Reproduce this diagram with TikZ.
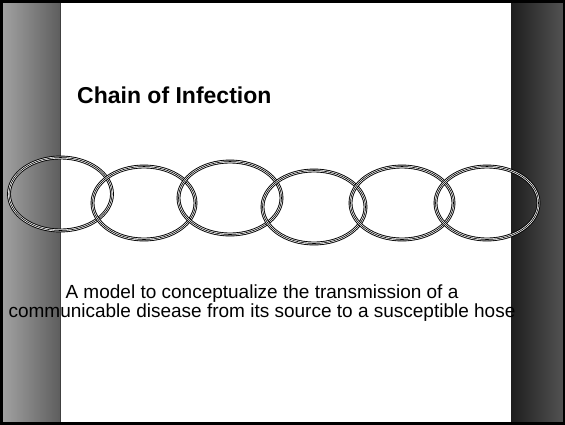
\documentclass[tikz,border=0pt]{standalone}
\usepackage{fontspec}
\setmainfont{Liberation Sans}
\usetikzlibrary{shapes.geometric}
\definecolor{bandlight}{HTML}{A2A2A2}
\definecolor{banddark}{HTML}{5E5E5E}
\definecolor{barleft}{HTML}{1E1E1E}
\definecolor{barright}{HTML}{525252}
\begin{document}
\begin{tikzpicture}[x=1pt, y=-1pt,
  ring/.style={ellipse, draw=black, line width=0.9pt, double=white, double distance=2pt,
    minimum width=103pt, minimum height=73pt, inner sep=0pt},
  ringcore/.style={ellipse, draw=black, line width=0.6pt,
    minimum width=103pt, minimum height=73pt, inner sep=0pt},
  heading/.style={font=\bfseries\fontsize{23}{27}\selectfont, inner sep=0pt, anchor=base west},
  bodytext/.style={font=\fontsize{19}{22}\selectfont, inner sep=0pt, anchor=base}]
\useasboundingbox (0,0) rectangle (565,424);
% slide background and side bands
\fill[white] (0,0) rectangle (565,424);
\shade[left color=bandlight, right color=banddark] (2,2) rectangle (60,422);
\draw[black!75, line width=0.8pt] (60,2) -- (60,422);
\shade[left color=barleft, right color=barright] (511,2) rectangle (563,422);
\draw[black, line width=5pt] (0,0) rectangle (565,424);
% title
\node[heading] (title) at (77,103) {Chain of Infection};
% the chain
\foreach \n/\x/\y in {1/60.5/194, 2/144/203, 3/230/198, 4/314/207, 5/402/203, 6/487/203} {
  \node[ring] (ring\n) at (\x,\y) {};
  \node[ringcore] at (ring\n.center) {};
}
% caption
\node[bodytext] (line1) at (262,298) {A model to conceptualize the transmission of a};
\node[bodytext] (line2) at (262,317) {communicable disease from its source to a susceptible hose};
\end{tikzpicture}
\end{document}
